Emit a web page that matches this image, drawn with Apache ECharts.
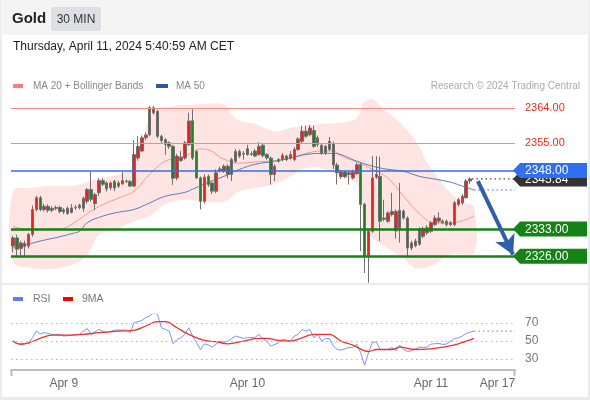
<!DOCTYPE html>
<html>
<head>
<meta charset="utf-8">
<script src="https://cdn.jsdelivr.net/npm/echarts@6/dist/echarts.min.js"></script>
<style>
  html, body { margin: 0; padding: 0; background: #fff; }
  #chart { width: 590px; height: 400px; }
</style>
</head>
<body>
<div id="chart"></div>
<script>
// 30 min candles, [open, close, low, high]
var candles = [
  [2328.6,2330.7,2327.0,2331.2],[2330.7,2327.8,2325.6,2331.5],[2328.0,2329.4,2326.2,2330.0],[2329.3,2328.5,2326.0,2330.0],
  [2328.6,2331.6,2328.0,2332.0],[2331.6,2338.0,2331.0,2339.0],[2338.0,2341.0,2337.5,2341.5],[2341.0,2338.0,2337.5,2341.5],
  [2338.0,2338.8,2337.5,2339.5],[2338.8,2337.8,2337.2,2339.3],[2337.8,2338.3,2337.3,2338.8],[2338.3,2338.5,2337.8,2339.0],
  [2338.5,2337.5,2337.0,2339.0],[2337.4,2337.9,2336.8,2338.4],[2338.3,2337.0,2336.6,2338.8],[2337.2,2338.4,2337.0,2339.4],
  [2338.4,2338.5,2337.9,2339.2],[2338.5,2339.1,2338.0,2339.5],[2338.3,2340.9,2337.4,2341.3],[2340.1,2343.1,2339.5,2343.5],
  [2343.1,2340.6,2340.0,2347.8],[2339.5,2341.8,2337.8,2342.3],[2342.3,2345.4,2341.5,2346.0],[2345.4,2344.5,2344.0,2346.0],
  [2344.8,2343.3,2342.6,2345.2],[2343.6,2344.8,2343.0,2345.2],[2345.2,2343.5,2342.7,2345.6],[2344.0,2344.8,2343.5,2345.4],
  [2344.6,2345.4,2344.3,2347.8],[2345.3,2345.2,2344.8,2345.7],[2345.2,2344.0,2343.8,2345.6],[2344.0,2352.1,2343.8,2355.8],
  [2351.2,2354.2,2350.5,2356.8],[2353.0,2356.4,2352.8,2357.0],[2356.4,2357.1,2355.8,2357.8],[2357.2,2364.1,2356.8,2364.6],
  [2364.1,2362.8,2362.3,2364.6],[2363.2,2356.8,2356.3,2363.6],[2356.8,2355.7,2354.8,2357.2],[2355.9,2354.7,2352.0,2356.3],
  [2355.1,2354.2,2353.5,2355.5],[2354.2,2346.0,2344.3,2354.6],[2346.1,2351.7,2345.5,2352.3],[2350.6,2351.4,2350.2,2353.0],
  [2351.2,2355.1,2350.8,2355.6],[2354.7,2360.7,2354.3,2362.8],[2360.8,2351.2,2350.7,2363.7],[2352.9,2346.1,2345.8,2353.2],
  [2346.1,2340.1,2338.0,2346.5],[2340.1,2346.3,2339.5,2347.0],[2346.5,2344.4,2343.8,2347.0],[2344.8,2342.7,2342.0,2345.2],
  [2342.7,2347.4,2342.2,2348.3],[2348.0,2348.4,2347.5,2349.0],[2347.8,2349.1,2347.4,2349.6],[2349.1,2347.0,2346.0,2349.6],
  [2347.0,2350.8,2345.3,2351.3],[2350.4,2352.9,2350.0,2353.5],[2352.9,2351.7,2351.2,2353.4],[2352.2,2352.4,2350.8,2353.0],
  [2352.1,2353.6,2351.8,2354.6],[2352.3,2352.1,2351.8,2352.9],[2353.0,2351.7,2351.4,2353.5],[2352.1,2354.2,2351.8,2355.3],
  [2354.5,2351.8,2351.4,2355.0],[2352.1,2351.2,2350.8,2352.5],[2351.2,2347.0,2344.4,2351.6],[2347.0,2349.1,2345.3,2349.6],
  [2350.8,2350.4,2350.0,2351.2],[2350.8,2351.9,2350.4,2352.5],[2351.7,2350.8,2350.4,2352.1],[2351.2,2352.1,2350.8,2353.0],
  [2350.8,2353.4,2350.4,2354.0],[2353.4,2356.1,2353.0,2356.6],[2355.5,2358.1,2355.1,2359.5],[2358.1,2356.8,2356.4,2359.5],
  [2357.2,2358.9,2356.8,2359.7],[2358.3,2354.2,2353.8,2359.5],[2356.4,2354.7,2354.0,2357.0],[2354.5,2352.5,2352.0,2355.0],
  [2354.2,2352.5,2352.0,2354.6],[2353.4,2355.5,2353.0,2356.6],[2354.8,2349.4,2348.4,2355.5],[2349.4,2347.4,2344.4,2350.0],
  [2346.4,2347.6,2345.8,2348.2],[2347.6,2346.4,2346.0,2348.0],[2347.0,2347.4,2344.4,2347.8],[2346.1,2347.6,2345.7,2348.2],
  [2347.2,2349.5,2346.8,2350.0],[2349.5,2339.3,2327.3,2350.0],[2339.3,2326.0,2321.7,2339.8],[2326.2,2332.4,2319.2,2333.0],
  [2332.4,2346.1,2332.0,2351.7],[2346.3,2347.0,2345.8,2351.7],[2346.5,2335.0,2329.9,2351.5],[2335.5,2335.8,2335.0,2340.5],
  [2335.0,2337.1,2334.6,2337.5],[2336.7,2337.5,2336.2,2342.3],[2332.5,2337.5,2330.5,2338.0],[2337.8,2333.3,2329.5,2344.8],
  [2337.6,2335.8,2335.4,2338.0],[2335.8,2328.1,2326.0,2336.2],[2328.1,2329.4,2327.5,2330.0],[2328.7,2329.9,2328.3,2330.5],
  [2329.1,2332.9,2328.7,2333.4],[2331.1,2333.1,2330.6,2333.6],[2332.0,2333.3,2331.5,2334.0],[2332.4,2334.6,2332.0,2335.0],
  [2334.1,2335.8,2333.7,2336.5],[2335.0,2335.8,2334.5,2337.3],[2334.6,2335.0,2334.2,2335.5],[2335.0,2334.1,2333.6,2335.4],
  [2334.1,2334.6,2333.7,2335.0],[2334.1,2339.7,2333.7,2340.2],[2339.3,2340.5,2338.8,2341.0],[2339.7,2341.4,2339.2,2342.0],
  [2341.0,2345.3,2340.8,2345.8],[2345.3,2345.84,2344.6,2346.3]
];
var lastPrice = 2345.84;
var slotCount = 129;

// indicators, [candle index, value]
var bbUpper = [[0,2342.7],[5,2343.5],[9,2344],[14,2344],[18,2344.7],[22,2346],[27,2347],[31,2349],[33,2355.5],[36,2363],
  [41,2364.5],[48,2365],[54,2365],[56,2362.5],[58,2360.7],[62,2360],[67,2358],[71,2359],[75,2359.5],[79,2360],[84,2360.3],
  [88,2361.5],[90,2365.8],[92,2366.3],[95,2363.7],[100,2359.4],[104,2354.2],[106,2350],[109,2345.8],[112,2342.2],[116,2339.6],[118,2338.8]];
var bbLower = [[0,2324.7],[5,2322.9],[9,2322.7],[14,2323.4],[18,2325.2],[20,2328],[22,2331.6],[27,2333.2],[31,2335],[35,2336.3],
  [39,2339.4],[44,2340.5],[48,2340.1],[54,2340],[58,2342.7],[62,2343.5],[67,2344.5],[71,2346.5],[75,2348.6],[79,2348.6],[84,2346.5],
  [88,2344.5],[89,2340],[91,2332],[92,2330.6],[96,2328],[100,2325.5],[103,2323],[107,2323.5],[112,2326.5],[118,2327]];
var ma20 = [[0,2333.7],[3,2333],[12,2333],[14,2333.6],[17,2335.5],[20,2337.6],[24,2339.7],[28,2341.3],[31,2342.7],[35,2347],
  [39,2350.4],[44,2351.7],[48,2353.5],[50,2353.3],[54,2350.9],[58,2349.9],[62,2350.2],[67,2350.5],[71,2351.2],[75,2352.4],
  [79,2353],[82,2353],[84,2351.7],[88,2350.2],[92,2348.3],[96,2346],[100,2341.4],[104,2337],[108,2334.5],[112,2334.5],[118,2336.3]];
var ma50 = [[0,2328.1],[4,2329.1],[7,2329.9],[12,2331],[15,2331.8],[17,2332.4],[19,2334.6],[23,2336.3],[27,2337.3],[31,2338],
  [35,2339.7],[39,2341.4],[44,2342.4],[46,2343.2],[50,2345],[54,2346.5],[58,2348.3],[62,2349.6],[67,2350.4],[71,2351.2],
  [75,2352.1],[79,2352.4],[82,2352.4],[88,2350.4],[92,2349.1],[96,2348.3],[100,2347.8],[104,2346.5],[108,2345.8],[112,2345],[115,2344],[118,2343]];

var rsi = [[0,50],[1,47],[4,47.6],[5,53.7],[6,61.1],[7,57.9],[8,59.3],[10,57.4],[12,57.4],[13,55.6],[15,56.3],[17,57.4],[19,64.1],
  [20,57.4],[22,63],[23,61.1],[24,59.3],[26,62.2],[28,62.2],[29,62.2],[30,59.3],[31,70.4],[33,72.9],[34,75.9],[35,77.8],[36,81.5],
  [37,79.6],[38,64.8],[39,63],[40,61.1],[41,47],[42,51.8],[43,53.7],[44,57.4],[45,64.8],[46,55.6],[47,48.2],[48,40.7],[49,47],
  [50,45.6],[51,43.3],[53,50],[54,49],[55,50],[56,52.9],[57,55.6],[59,52.9],[60,53.7],[62,54.2],[63,57.4],[64,52.5],[65,50],
  [66,44.4],[68,48.1],[69,52.1],[71,50],[72,55.5],[73,57.4],[74,63],[75,61.1],[76,63],[77,53.7],[78,57.4],[79,50],[80,52.9],
  [81,53],[82,44.4],[83,40.7],[84,40],[86,42.9],[87,43],[88,46.7],[89,37],[90,23.3],[91,37],[92,48.8],[93,48.8],[94,40.7],
  [96,40.7],[97,42.9],[98,39.2],[99,45.6],[100,40.7],[101,38.5],[102,39.2],[104,43.3],[105,42.9],[106,43.3],[107,46.7],
  [109,47.4],[110,46.3],[111,46.7],[113,52.9],[114,53.7],[115,55.5],[116,58.5],[118,61.1]];
var rsiMa = [[0,50],[2,46.3],[4,48.1],[7,53],[10,56.7],[14,56.7],[18,57.4],[22,59.3],[27,61.1],[31,61.9],[34,66.7],[37,71.5],
  [39,71.5],[42,64.8],[45,57.4],[49,50.7],[52,49.3],[55,47],[59,50],[63,53],[65,53],[68,50.7],[71,50],[74,53.7],[77,57.4],
  [81,57.4],[84,50],[87,45.6],[91,38.5],[93,40.7],[97,40.7],[99,43.3],[103,40.7],[107,41.5],[110,43.3],[114,47],[118,52.9]];

var resistance = [2364, 2355];
var pivot = 2348;
var supports = [2333, 2326];
var rsiLevels = [70, 50, 30];
var arrowFrom = [119, 2345.3];
var arrowTo = [128, 2326.4];

var tickIndex = [13, 60, 107, 124];
var tickText = ['Apr 9', 'Apr 10', 'Apr 11', 'Apr 17'];

var FONT = "'Liberation Sans', Arial, sans-serif";
var cats = [];
for (var i = 0; i < slotCount; i++) cats.push('c' + i);

var chart = echarts.init(document.getElementById('chart'));

var levelLines = [];
resistance.forEach(function (v) {
  levelLines.push({ yAxis: v, lineStyle: { color: '#f28b85', width: 1, type: 'solid' },
    label: { show: true, position: 'end', distance: 10, formatter: v.toFixed(2), color: '#ee2a20', fontSize: 11, fontFamily: FONT } });
});
levelLines.push({ yAxis: pivot, lineStyle: { color: '#2f6ff0', width: 1.5, type: 'solid' }, label: { show: false } });
supports.forEach(function (v) {
  levelLines.push({ yAxis: v, lineStyle: { color: '#148214', width: 2.5, type: 'solid' }, label: { show: false } });
});

function band(params, api) {
  var pts = [];
  bbUpper.forEach(function (p) { pts.push(api.coord(p)); });
  for (var k = bbLower.length - 1; k >= 0; k--) pts.push(api.coord(bbLower[k]));
  return { type: 'polygon', shape: { points: pts, smooth: 0.35 }, style: { fill: 'rgba(255,120,120,0.2)' } };
}

var option = {
  animation: false,
  textStyle: { fontFamily: FONT },
  grid: [
    { left: 11, width: 504, top: 96.5, height: 187 },
    { left: 11, width: 504, top: 314, height: 56 }
  ],
  xAxis: [
    { type: 'category', gridIndex: 0, data: cats, boundaryGap: true, show: false },
    { type: 'value', gridIndex: 0, min: -0.5, max: slotCount - 0.5, show: false },
    { type: 'category', gridIndex: 1, data: cats, boundaryGap: true,
      axisLine: { lineStyle: { color: '#bdbdbd', width: 2 } }, axisTick: { show: false },
      axisLabel: { color: '#666', fontSize: 12, margin: 8,
        interval: function (idx) { return tickIndex.indexOf(idx) >= 0; },
        formatter: function (val, idx) { var j = tickIndex.indexOf(idx); return j >= 0 ? tickText[j] : ''; } } },
    { type: 'value', gridIndex: 1, min: -0.5, max: slotCount - 0.5, show: false }
  ],
  yAxis: [
    { type: 'value', gridIndex: 0, min: 2319, max: 2367, show: false },
    { type: 'value', gridIndex: 1, min: 18, max: 80, show: false }
  ],
  series: [
    { type: 'custom', xAxisIndex: 1, yAxisIndex: 0, renderItem: band, data: [[0, 2340]], silent: true, z: 1 },
    { type: 'line', xAxisIndex: 1, yAxisIndex: 0, data: ma20, smooth: 0.4, showSymbol: false, silent: true,
      lineStyle: { color: '#f59a94', width: 1 }, z: 2 },
    { type: 'line', xAxisIndex: 1, yAxisIndex: 0, data: ma50, smooth: 0.4, showSymbol: false, silent: true,
      lineStyle: { color: '#5a7dbb', width: 1 }, z: 2 },
    { type: 'line', xAxisIndex: 1, yAxisIndex: 0, data: [[ma50[ma50.length - 1][0], ma50[ma50.length - 1][1]], [slotCount - 0.5, ma50[ma50.length - 1][1]]],
      showSymbol: false, silent: true, lineStyle: { color: '#3a6fd8', width: 1.2, type: [1.5, 3] }, z: 2 },
    { type: 'line', xAxisIndex: 1, yAxisIndex: 0, data: [[candles.length - 0.5, lastPrice], [slotCount - 0.5, lastPrice]],
      showSymbol: false, silent: true, lineStyle: { color: '#444', width: 1.2, type: [1.5, 3] }, z: 2 },
    { type: 'candlestick', xAxisIndex: 0, yAxisIndex: 0, data: candles, barWidth: 3, silent: true, z: 3,
      itemStyle: { color: '#e8231d', color0: '#2b7d2b', borderColor: '#707070', borderColor0: '#707070', borderWidth: 1 },
      markLine: { symbol: 'none', silent: true, animation: false, data: levelLines, z: 4 } },
    { type: 'line', xAxisIndex: 1, yAxisIndex: 0, data: [], silent: true, z: 6,
      markLine: { symbol: ['none', 'arrow'], symbolSize: [16, 19], silent: true,
        lineStyle: { color: '#2f5fa6', width: 4, type: 'solid' }, label: { show: false },
        data: [[{ coord: arrowFrom }, { coord: arrowTo }]] } },
    // RSI panel
    { type: 'line', xAxisIndex: 3, yAxisIndex: 1, data: rsi, showSymbol: false, silent: true,
      lineStyle: { color: '#7b96ec', width: 1 }, z: 3,
      markLine: { symbol: 'none', silent: true,
        lineStyle: { color: '#b5b5b5', width: 1, type: [1.5, 3.5] },
        label: { show: true, position: 'end', distance: 10, color: '#777', fontSize: 12, fontFamily: FONT },
        data: rsiLevels.map(function (v) { return { yAxis: v }; }) } },
    { type: 'line', xAxisIndex: 3, yAxisIndex: 1, data: [[rsi[rsi.length - 1][0], rsi[rsi.length - 1][1]], [slotCount - 0.5, rsi[rsi.length - 1][1]]],
      showSymbol: false, silent: true, lineStyle: { color: '#7b96ec', width: 1.2, type: [1.5, 3] }, z: 3 },
    { type: 'line', xAxisIndex: 3, yAxisIndex: 1, data: rsiMa, smooth: 0.4, showSymbol: false, silent: true,
      lineStyle: { color: '#f03030', width: 1.3 }, z: 4 }
  ]
};
chart.setOption(option);

// tags on the right edge, placed with the price scale
function tag(value, fill, z) {
  var yc = chart.convertToPixel({ yAxisIndex: 0 }, value);
  var x0 = 513, x1 = 587, h = 7.5;
  return [
    { type: 'polygon', z: z, shape: { points: [[x0, yc], [x0 + 7, yc - h], [x1, yc - h], [x1, yc + h], [x0 + 7, yc + h]] }, style: { fill: fill } },
    { type: 'text', z: z + 1, style: { text: value.toFixed(2), x: 525, y: yc + 0.5, fill: '#fff', fontSize: 12, fontFamily: FONT, textVerticalAlign: 'middle' } }
  ];
}

var g = [
  { type: 'rect', z: -10, shape: { x: 0, y: 0, width: 590, height: 400 }, style: { fill: '#e9ebee' } },
  { type: 'rect', z: -9, shape: { x: 1, y: 0, width: 588, height: 35 }, style: { fill: '#f4f4f5' } },
  { type: 'rect', z: -9, shape: { x: 2, y: 35, width: 586, height: 248 }, style: { fill: '#ffffff' } },
  { type: 'rect', z: -9, shape: { x: 2, y: 285, width: 586, height: 112 }, style: { fill: '#ffffff' } },
  { type: 'text', style: { text: 'Gold', x: 12, y: 19, fill: '#222', fontSize: 15, fontWeight: 'bold', fontFamily: FONT, textVerticalAlign: 'middle' } },
  { type: 'rect', shape: { x: 51, y: 7, width: 50, height: 24, r: 2 }, style: { fill: '#dcdfe4' } },
  { type: 'text', style: { text: '30 MIN', x: 76, y: 19.5, fill: '#333', fontSize: 12, fontFamily: FONT, textAlign: 'center', textVerticalAlign: 'middle' } },
  { type: 'text', style: { text: 'Thursday, April 11, 2024 5:40:59 AM CET', x: 13, y: 47, fill: '#222', fontSize: 12, fontFamily: FONT, textVerticalAlign: 'middle' } },
  { type: 'rect', shape: { x: 13, y: 84, width: 10, height: 4 }, style: { fill: '#ff7b7b' } },
  { type: 'text', style: { text: 'MA 20 + Bollinger Bands', x: 33, y: 86.5, fill: '#888', fontSize: 10, fontFamily: FONT, textVerticalAlign: 'middle' } },
  { type: 'rect', shape: { x: 156, y: 84, width: 12, height: 4 }, style: { fill: '#30589a' } },
  { type: 'text', style: { text: 'MA 50', x: 176, y: 86.5, fill: '#888', fontSize: 10, fontFamily: FONT, textVerticalAlign: 'middle' } },
  { type: 'text', style: { text: 'Research \u00a9 2024 Trading Central', x: 580, y: 86.5, fill: '#aaa', fontSize: 10, fontFamily: FONT, textAlign: 'right', textVerticalAlign: 'middle' } },
  { type: 'rect', shape: { x: 13, y: 297, width: 10, height: 4 }, style: { fill: '#5f7fe6' } },
  { type: 'text', style: { text: 'RSI', x: 33, y: 299, fill: '#777', fontSize: 10.5, fontFamily: FONT, textVerticalAlign: 'middle' } },
  { type: 'rect', shape: { x: 63, y: 297, width: 10, height: 4 }, style: { fill: '#ff0000' } },
  { type: 'text', style: { text: '9MA', x: 82, y: 299, fill: '#777', fontSize: 10.5, fontFamily: FONT, textVerticalAlign: 'middle' } },
  { type: 'line', shape: { x1: 11.5, y1: 370, x2: 11.5, y2: 376 }, style: { stroke: '#bdbdbd', lineWidth: 2 } },
  { type: 'line', shape: { x1: 514.5, y1: 370, x2: 514.5, y2: 376 }, style: { stroke: '#bdbdbd', lineWidth: 2 } }
];
g = g.concat(tag(lastPrice, '#333333', 20));
g = g.concat(tag(pivot, '#2f6ff0', 30));
supports.forEach(function (v) { g = g.concat(tag(v, '#148214', 30)); });
chart.setOption({ graphic: g });
</script>
</body>
</html>
